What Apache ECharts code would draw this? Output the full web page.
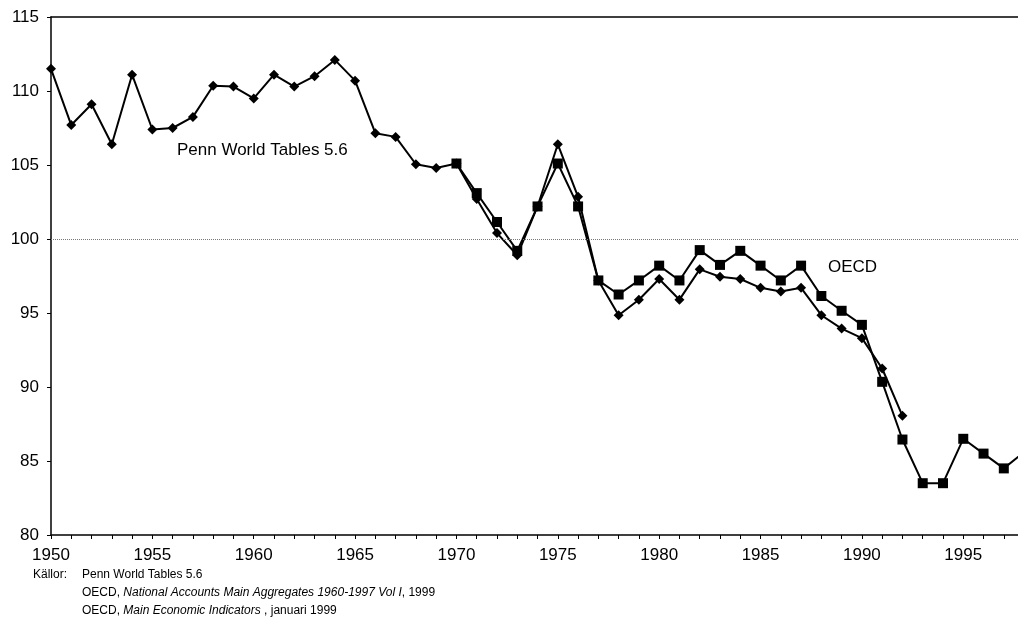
<!DOCTYPE html>
<html>
<head>
<meta charset="utf-8">
<script src="https://cdn.jsdelivr.net/npm/echarts@6/dist/echarts.min.js"></script>
<style>
  html, body { margin: 0; padding: 0; background: #fff; }
  #chart { width: 1018px; height: 636px; }
</style>
</head>
<body>
<div id="chart"></div>
<script>
// Penn World Tables 5.6, 1950-1992
const pennYears = [1950, 1951, 1952, 1953, 1954, 1955, 1956, 1957, 1958, 1959,
  1960, 1961, 1962, 1963, 1964, 1965, 1966, 1967, 1968, 1969,
  1970, 1971, 1972, 1973, 1974, 1975, 1976, 1977, 1978, 1979,
  1980, 1981, 1982, 1983, 1984, 1985, 1986, 1987, 1988, 1989,
  1990, 1991, 1992];
const pennValues = [111.5, 107.7, 109.1, 106.4, 111.1, 107.4, 107.5, 108.25, 110.35, 110.3,
  109.5, 111.1, 110.3, 111.0, 112.1, 110.7, 107.15, 106.9, 105.05, 104.8,
  105.1, 102.7, 100.4, 98.9, 102.2, 106.4, 102.85, 97.2, 94.85, 95.9,
  97.3, 95.9, 97.95, 97.45, 97.3, 96.7, 96.45, 96.7, 94.85, 93.95,
  93.3, 91.25, 88.05];

// OECD, 1970-1998
const oecdYears = [1970, 1971, 1972, 1973, 1974, 1975, 1976, 1977, 1978, 1979,
  1980, 1981, 1982, 1983, 1984, 1985, 1986, 1987, 1988, 1989,
  1990, 1991, 1992, 1993, 1994, 1995, 1996, 1997, 1998];
const oecdValues = [105.1, 103.1, 101.15, 99.2, 102.2, 105.1, 102.2, 97.2, 96.25, 97.2,
  98.2, 97.2, 99.25, 98.25, 99.2, 98.2, 97.2, 98.2, 96.15, 95.15,
  94.2, 90.35, 86.45, 83.5, 83.5, 86.5, 85.5, 84.5, 85.6];

const refLine = 100;

const font = 'Liberation Sans, Arial, sans-serif';

const chart = echarts.init(document.getElementById('chart'));

const pair = (xs, ys) => xs.map((x, i) => [x, ys[i]]);

chart.setOption({
  animation: false,
  backgroundColor: '#fff',
  grid: { left: 51, right: 0, top: 17, bottom: 101 },
  xAxis: [{
    type: 'value',
    min: 1950,
    max: 1997.7,
    interval: 1,
    axisLine: { show: true, lineStyle: { color: '#000', width: 1.5 } },
    axisTick: { show: true, length: 4, inside: false, lineStyle: { color: '#000' } },
    splitLine: { show: false },
    axisLabel: {
      color: '#000',
      fontFamily: font,
      fontSize: 17,
      margin: 12,
      showMaxLabel: false,
      formatter: v => (Number.isInteger(v) && v % 5 === 0) ? String(v) : ''
    }
  }, {
    type: 'value',
    position: 'top',
    min: 1950,
    max: 1997.7,
    axisLine: { show: true, lineStyle: { color: '#000', width: 1.5 } },
    axisTick: { show: false },
    axisLabel: { show: false },
    splitLine: { show: false }
  }],
  yAxis: {
    type: 'value',
    min: 80,
    max: 115,
    interval: 5,
    axisLine: { show: true, lineStyle: { color: '#000', width: 1.5 } },
    axisTick: { show: true, length: 4, lineStyle: { color: '#000' } },
    splitLine: { show: false },
    axisLabel: { color: '#000', fontFamily: font, fontSize: 17, margin: 12 }
  },
  series: [{
    name: 'Penn World Tables 5.6',
    type: 'line',
    data: pair(pennYears, pennValues),
    symbol: 'diamond',
    symbolSize: 10,
    itemStyle: { color: '#000' },
    lineStyle: { color: '#000', width: 2 },
    markLine: {
      silent: true,
      symbol: 'none',
      label: { show: false },
      lineStyle: { color: '#777', type: 'dotted', width: 1 },
      data: [{ yAxis: refLine }]
    }
  }, {
    name: 'OECD',
    type: 'line',
    data: pair(oecdYears, oecdValues),
    symbol: 'rect',
    symbolSize: 10,
    itemStyle: { color: '#000' },
    lineStyle: { color: '#000', width: 2 }
  }],
  graphic: [
    { type: 'text', left: 177, top: 142, style: { text: 'Penn World Tables 5.6', font: '17px ' + font, fill: '#000' } },
    { type: 'text', left: 828, top: 259, style: { text: 'OECD', font: '17px ' + font, fill: '#000' } },
    { type: 'text', left: 33, top: 569, style: { text: 'Källor:', font: '12px ' + font, fill: '#000' } },
    { type: 'text', left: 82, top: 569, style: { text: 'Penn World Tables 5.6', font: '12px ' + font, fill: '#000' } },
    { type: 'text', left: 82, top: 587, style: {
      text: '{n|OECD, }{i|National Accounts Main Aggregates 1960-1997 Vol I}{n|, 1999}',
      rich: {
        n: { font: '12px ' + font, fill: '#000' },
        i: { font: 'italic 12px ' + font, fill: '#000' }
      }
    } },
    { type: 'text', left: 82, top: 605, style: {
      text: '{n|OECD, }{i|Main Economic Indicators}{n| , januari 1999}',
      rich: {
        n: { font: '12px ' + font, fill: '#000' },
        i: { font: 'italic 12px ' + font, fill: '#000' }
      }
    } }
  ]
});
</script>
</body>
</html>
